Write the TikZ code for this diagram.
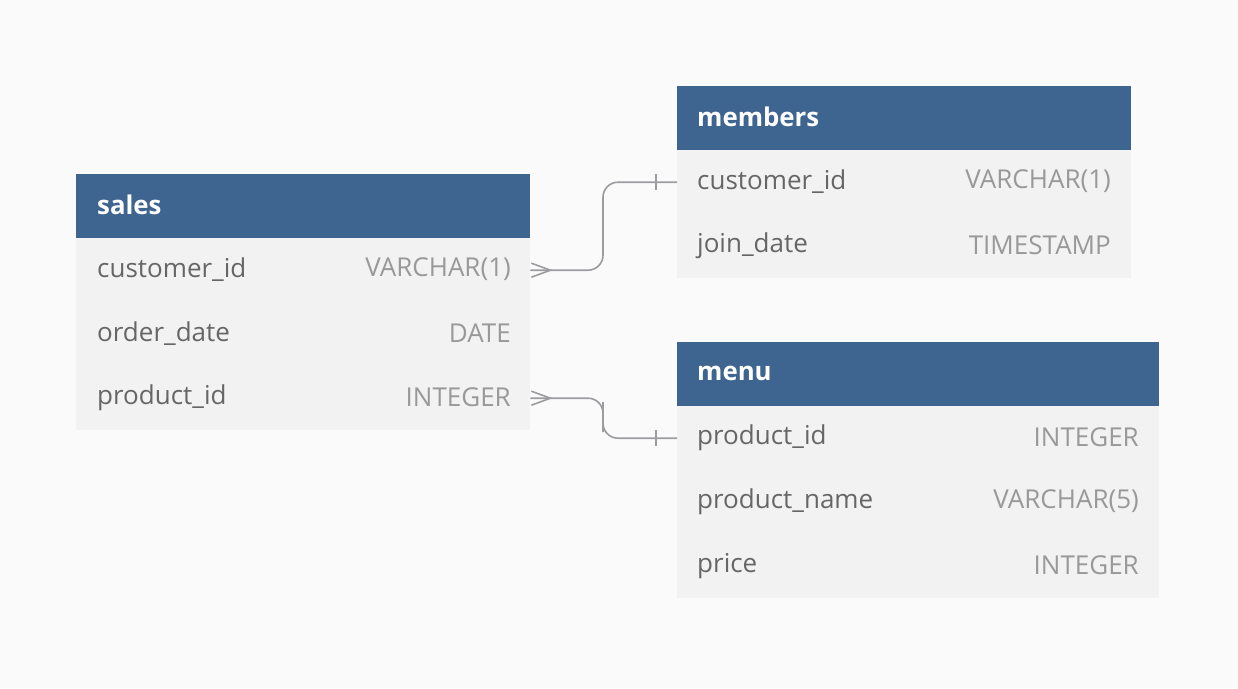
\documentclass[tikz,border=0pt]{standalone}
\usepackage{fontspec}
\setmainfont{Open Sans}
\definecolor{bgc}{RGB}{250,250,250}
\definecolor{hdr}{RGB}{62,100,144}
\definecolor{rowc}{RGB}{242,242,242}
\definecolor{namec}{RGB}{102,102,102}
\definecolor{typec}{RGB}{153,153,153}
\definecolor{linec}{RGB}{155,155,160}
\begin{document}
\begin{tikzpicture}[x=1pt,y=-1pt,
  hdrbox/.style={anchor=north west,inner sep=0,fill=hdr,minimum height=64pt},
  rowbox/.style={anchor=north west,inner sep=0,fill=rowc,minimum height=64pt},
  title/.style={anchor=west,inner sep=0,text=white,font=\fontsize{25.8}{30}\selectfont\bfseries},
  fname/.style={anchor=west,inner sep=0,text=namec,font=\fontsize{26}{30}\selectfont},
  ftype/.style={anchor=east,inner sep=0,text=typec,font=\fontsize{26}{30}\selectfont},
  conn/.style={draw=linec,line width=1.6pt,rounded corners=15pt},
  endmark/.style={draw=linec,line width=1.6pt}]
\fill[bgc] (0,0) rectangle (1238,688);
\useasboundingbox (0,0) rectangle (1238,688);
% sales
\node[hdrbox,minimum width=454pt] (s-h) at (76,174) {};
\node[rowbox,minimum width=454pt] (s-r1) at (76,238) {};
\node[rowbox,minimum width=454pt] (s-r2) at (76,302) {};
\node[rowbox,minimum width=454pt] (s-r3) at (76,366) {};
\node[title] (s-t) at (97,205) {sales};
\node[fname] (s-n1) at (97,270) {customer\_id};
\node[ftype] (s-y1) at (511,269) {VARCHAR(1)};
\node[fname] (s-n2) at (97,334) {order\_date};
\node[ftype] (s-y2) at (511,333) {DATE};
\node[fname] (s-n3) at (97,398) {product\_id};
\node[ftype] (s-y3) at (511,397) {INTEGER};
% members
\node[hdrbox,minimum width=454pt] (m-h) at (677,86) {};
\node[rowbox,minimum width=454pt] (m-r1) at (677,150) {};
\node[rowbox,minimum width=454pt] (m-r2) at (677,214) {};
\node[title] (m-t) at (697,117) {members};
\node[fname] (m-n1) at (697,182) {customer\_id};
\node[ftype] (m-y1) at (1111,181) {VARCHAR(1)};
\node[fname] (m-n2) at (697,246) {join\_date};
\node[ftype] (m-y2) at (1111,245) {TIMESTAMP};
% menu
\node[hdrbox,minimum width=482pt] (u-h) at (677,342) {};
\node[rowbox,minimum width=482pt] (u-r1) at (677,406) {};
\node[rowbox,minimum width=482pt] (u-r2) at (677,470) {};
\node[rowbox,minimum width=482pt] (u-r3) at (677,534) {};
\node[title] (u-t) at (697,373) {menu};
\node[fname] (u-n1) at (697,438) {product\_id};
\node[ftype] (u-y1) at (1139,437) {INTEGER};
\node[fname] (u-n2) at (697,502) {product\_name};
\node[ftype] (u-y2) at (1139,501) {VARCHAR(5)};
\node[fname] (u-n3) at (697,566) {price};
\node[ftype] (u-y3) at (1139,565) {INTEGER};
% connectors
\draw[conn] (s-r1.east) -| (603,225) |- (m-r1.west);
\draw[conn] (s-r3.east) -| (603,417) |- (u-r1.west);
% crow's feet
\draw[endmark] ([xshift=1pt,yshift=-7pt]s-r1.east) -- ([xshift=20pt]s-r1.east) -- ([xshift=1pt,yshift=7pt]s-r1.east);
\draw[endmark] ([xshift=1pt,yshift=-7pt]s-r3.east) -- ([xshift=20pt]s-r3.east) -- ([xshift=1pt,yshift=7pt]s-r3.east);
% one ticks
\draw[endmark] ([xshift=-21pt,yshift=-8pt]m-r1.west) -- ([xshift=-21pt,yshift=8pt]m-r1.west);
\draw[endmark] ([xshift=-21pt,yshift=-8pt]u-r1.west) -- ([xshift=-21pt,yshift=8pt]u-r1.west);
\end{tikzpicture}
\end{document}
